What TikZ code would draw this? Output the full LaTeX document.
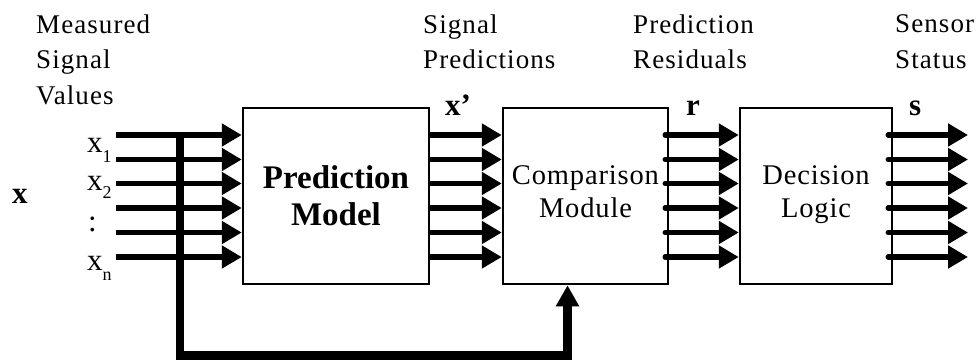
\documentclass[tikz,border=0pt]{standalone}
\usepackage{fontspec}
\setmainfont{Liberation Serif}
\usetikzlibrary{arrows.meta}
\newcommand\subfnt{\fontsize{18}{18}\selectfont}

\begin{document}
\begin{tikzpicture}[x=1pt,y=-1pt,
  block/.style={draw, line width=2.5pt, inner sep=0pt, align=center, minimum height=176pt},
  sig/.style={line width=5.5pt, -{Triangle[length=20pt,width=22pt]}},
  feed/.style={line width=8.5pt, line join=miter, -{Triangle[length=21pt,width=22pt]}},
  lbl/.style={inner sep=0pt, align=left, anchor=north west,
    font=\fontsize{27}{35.5}\selectfont\addfontfeatures{LetterSpace=4}},
  vec/.style={inner sep=0pt, anchor=base west, font=\fontsize{31}{31}\selectfont\bfseries},
  comp/.style={inner sep=0pt, anchor=base west, font=\fontsize{31}{31}\selectfont}
]
\useasboundingbox (0,0) rectangle (980,360);

% processing blocks
\node[block, minimum width=186pt, font=\fontsize{33}{37}\selectfont\bfseries]
  (pm) at (336,196) {Prediction\\Model};
\node[block, minimum width=165pt, text depth=8pt,
  font=\fontsize{28.5}{33}\selectfont\addfontfeatures{LetterSpace=3}]
  (cm) at (585.5,196) {Comparison\\Module};
\node[block, minimum width=152pt, text depth=8pt,
  font=\fontsize{28.5}{33}\selectfont\addfontfeatures{LetterSpace=3}]
  (dl) at (816,196) {Decision\\Logic};

% signal rows: inputs, predictions, residuals, status flags
\foreach \i/\y in {0/135,1/159.5,2/183.5,3/208,4/232.5,5/257}{
  \coordinate (in\i) at (116,\y);
  \coordinate (out\i) at (968,\y);
  \draw[sig] (in\i) -- (pm.west |- in\i);
  \draw[sig] (pm.east |- in\i) -- (cm.west |- in\i);
  \draw[sig, line cap=round] ([xshift=-4pt]cm.east |- in\i) -- (dl.west |- in\i);
  \draw[sig, line cap=round] ([xshift=-5pt]dl.east |- in\i) -- (out\i);
}

% measured values fed forward to the comparison module
\coordinate (tap) at (180,132);
\draw[feed] (tap) -- (180,355.5) -| ([xshift=-18pt]cm.south);

% stage labels
\node[lbl] (lmeas) at (36,14.5) {Measured\\Signal\\Values};
\node[lbl] (lpred) at (423,14.5) {Signal\\Predictions};
\node[lbl] (lres)  at (633,14.5) {Prediction\\Residuals};
\node[lbl] (lstat) at (895,14.5) {Sensor\\Status};

% vector names
\node[vec] (vx)  at (12,203)  {x};
\node[vec] (vxp) at (445,115) {x’};
\node[vec] (vr)  at (686,115) {r};
\node[vec] (vs)  at (909,115) {s};

% input components
\node[comp] (x1) at (87,152) {x\raisebox{-10pt}{\subfnt 1}};
\node[comp] (x2) at (87,190) {x\raisebox{-8pt}{\subfnt 2}};
\node[comp] (xd) at (88,231) {:};
\node[comp] (xn) at (87,270) {x\raisebox{-10pt}{\subfnt n}};
\end{tikzpicture}
\end{document}
